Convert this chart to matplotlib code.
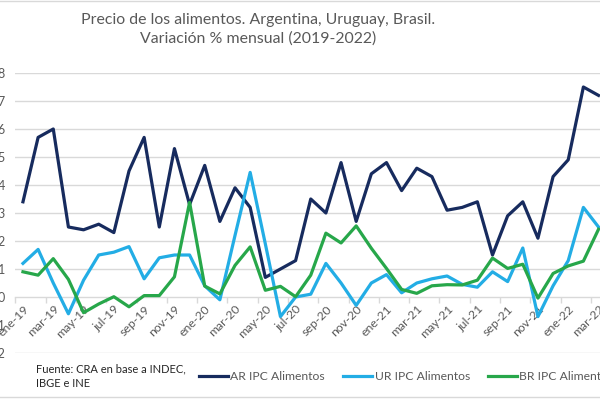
import numpy as np
import matplotlib.pyplot as plt
from matplotlib.patches import Rectangle

plt.rcParams['font.family'] = ['Lato', 'DejaVu Sans']

# Data (variación % mensual, ene-19 .. mar-22)
meses = ['ene-19', 'feb-19', 'mar-19', 'abr-19', 'may-19', 'jun-19', 'jul-19', 'ago-19',
         'sep-19', 'oct-19', 'nov-19', 'dic-19',
         'ene-20', 'feb-20', 'mar-20', 'abr-20', 'may-20', 'jun-20', 'jul-20', 'ago-20',
         'sep-20', 'oct-20', 'nov-20', 'dic-20',
         'ene-21', 'feb-21', 'mar-21', 'abr-21', 'may-21', 'jun-21', 'jul-21', 'ago-21',
         'sep-21', 'oct-21', 'nov-21', 'dic-21',
         'ene-22', 'feb-22', 'mar-22']
ar = [3.4, 5.7, 6.0, 2.5, 2.4, 2.6, 2.3, 4.5, 5.7, 2.5, 5.3, 3.3,
      4.7, 2.7, 3.9, 3.2, 0.7, 1.0, 1.3, 3.5, 3.0, 4.8, 2.7, 4.4,
      4.8, 3.8, 4.6, 4.3, 3.1, 3.2, 3.4, 1.5, 2.9, 3.4, 2.1, 4.3,
      4.9, 7.5, 7.2]
ur = [1.2, 1.7, 0.5, -0.6, 0.6, 1.5, 1.6, 1.8, 0.65, 1.4, 1.5, 1.5,
      0.4, -0.1, 2.2, 4.45, 1.9, -0.7, 0.0, 0.1, 1.2, 0.5, -0.3, 0.5,
      0.8, 0.15, 0.5, 0.65, 0.75, 0.45, 0.35, 0.9, 0.55, 1.75, -0.7, 0.4,
      1.3, 3.2, 2.5]
br = [0.90, 0.78, 1.37, 0.63, -0.56, -0.25, 0.01, -0.35, 0.05, 0.05, 0.72, 3.38,
      0.39, 0.11, 1.13, 1.79, 0.24, 0.38, 0.01, 0.78, 2.28, 1.93, 2.54, 1.74,
      1.02, 0.27, 0.13, 0.40, 0.44, 0.43, 0.60, 1.39, 1.02, 1.17, -0.04, 0.84,
      1.11, 1.28, 2.42]
series = ['AR IPC Alimentos', 'UR IPC Alimentos', 'BR IPC Alimentos']
colores = ['#172B5E', '#23ADE5', '#27A74A']
yticks = [-2, -1, 0, 1, 2, 3, 4, 5, 6, 7, 8]

gris = '#595959'
grid_c = '#D9D9D9'

fig = plt.figure(figsize=(6, 4), dpi=100)
# the chart is cropped on the left and right, so the axes run past the figure edge
ax = fig.add_axes([15.4 / 600, 47 / 400, 590.7 / 600, 280 / 400])

x = np.arange(len(meses))
for vals, name, c in zip([ar, ur, br], series, colores):
    ax.plot(x, vals, color=c, lw=2.3, label=name)

ax.set_xlim(-0.5, len(meses) - 0.5)
ax.set_ylim(-2, 8)

# gridlines (no line at -1, it sits under the month labels)
for v in yticks:
    if v not in (-1, 0):
        ax.axhline(v, color=grid_c, lw=1, zorder=0)

for s in ['top', 'right', 'left']:
    ax.spines[s].set_visible(False)
ax.spines['bottom'].set_position(('data', 0))
ax.spines['bottom'].set_color(grid_c)
ax.spines['bottom'].set_linewidth(1)
ax.spines['bottom'].set_zorder(0)

ax.set_yticks(yticks)
ax.set_yticklabels([str(v) for v in yticks])
ax.tick_params(axis='y', length=0, pad=7.5, labelsize=9, labelcolor=gris)

ax.set_xticks(x[::2])
ax.set_xticklabels(meses[::2], rotation=45, ha='right', rotation_mode='anchor')
ax.tick_params(axis='x', which='major', length=0, pad=4.5, labelsize=8.8, labelcolor=gris)
ax.set_xticks(np.arange(-0.5, len(meses), 2), minor=True)
ax.tick_params(axis='x', which='minor', length=4, width=1, color=grid_c, direction='out')

fig.text(0.43, 0.926, 'Precio de los alimentos. Argentina, Uruguay, Brasil.\nVariación % mensual (2019-2022)',
         ha='center', va='center', fontsize=11.4, color=gris, linespacing=1.35)

fig.text(36 / 600, 1 - 376 / 400, 'Fuente: CRA en base a INDEC,\nIBGE e INE', ha='left', va='center',
         fontsize=8, color='#262626', linespacing=1.4)

ax.legend(ncol=3, loc='center left', bbox_to_anchor=(199 / 600, 1 - 377 / 400),
          bbox_transform=fig.transFigure, frameon=False, fontsize=8.7, labelcolor=gris,
          handlelength=2.4, handletextpad=0.2, columnspacing=1.5, borderpad=0, borderaxespad=0)

fig.add_artist(Rectangle((-0.01, 3 / 400), 1.02, 396 / 400, transform=fig.transFigure,
                         fill=False, edgecolor=grid_c, lw=1))

plt.savefig('out.png', dpi=100)
